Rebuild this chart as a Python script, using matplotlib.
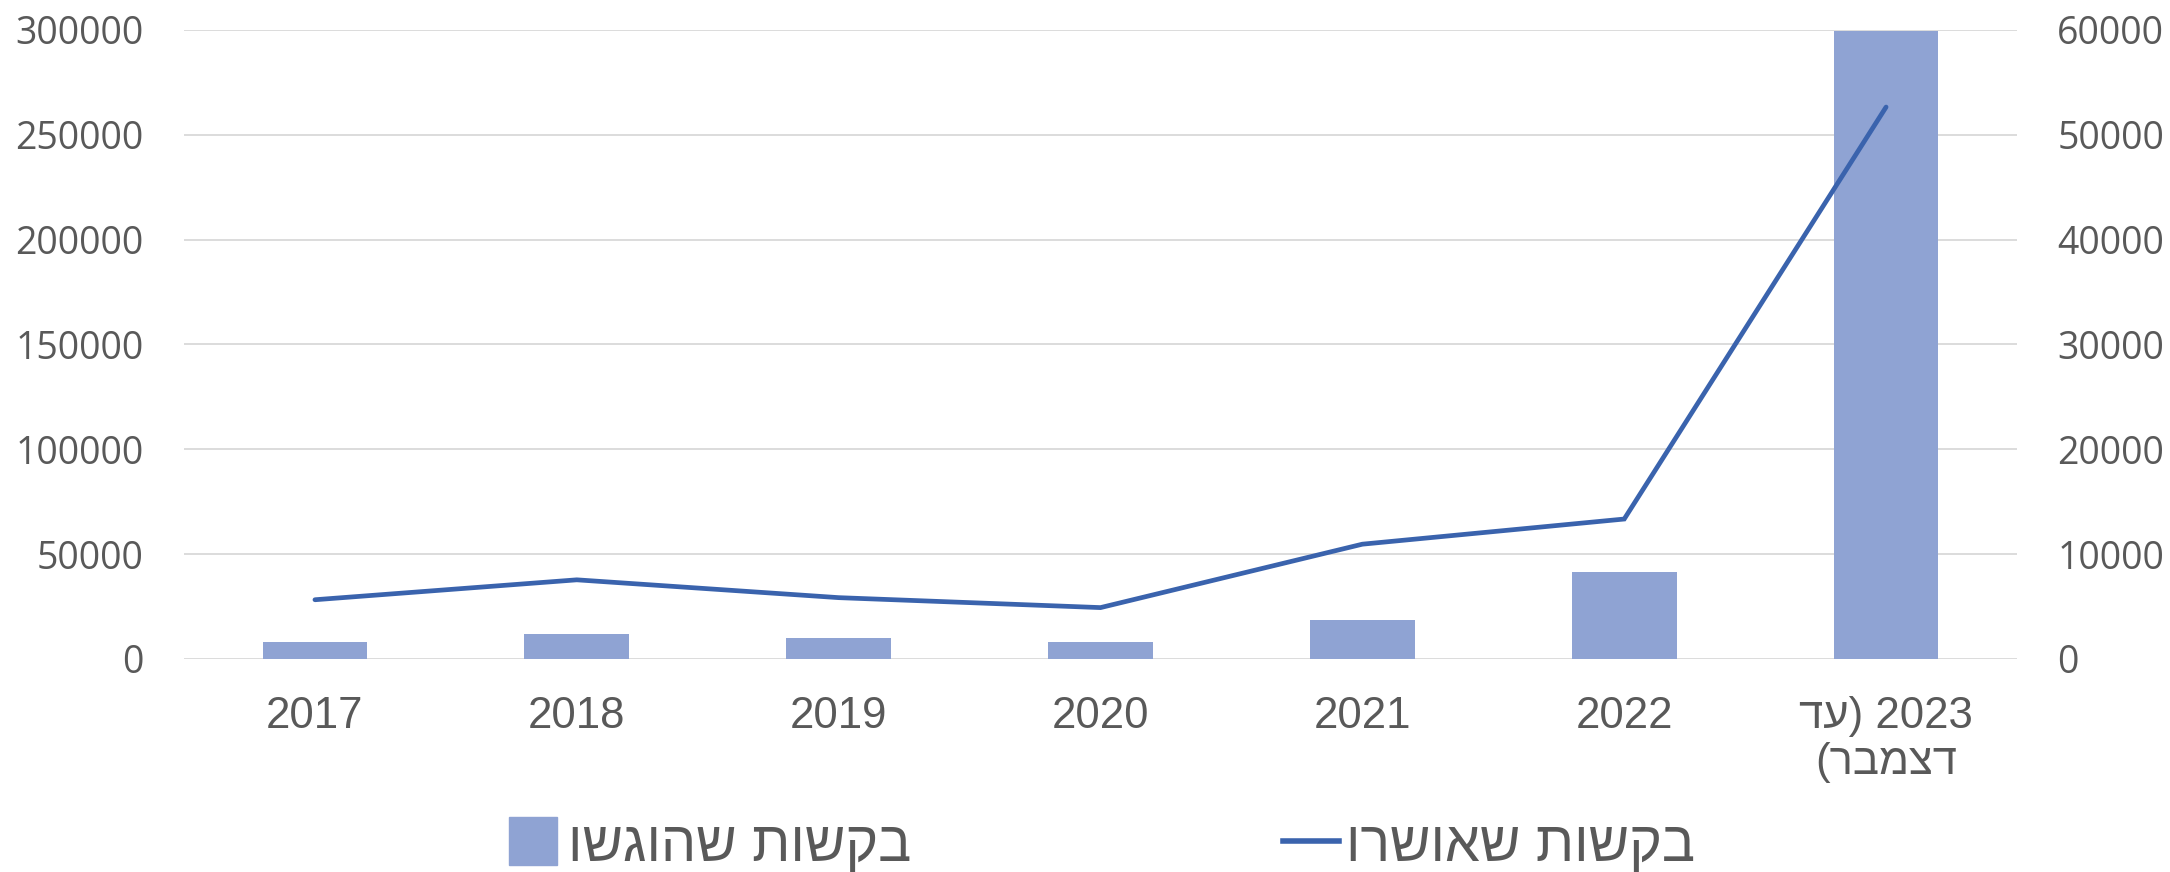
import matplotlib
matplotlib.use("Agg")
import matplotlib.pyplot as plt
from matplotlib.lines import Line2D
import numpy as np

# data
years = ["2017", "2018", "2019", "2020", "2021", "2022", "2023"]
submitted = [8000, 12000, 9800, 8000, 18800, 41700, 299500]   # left axis, bars
approved = [5650, 7550, 5850, 4900, 10950, 13350, 52650]      # right axis, line

# Hebrew is drawn left-to-right by matplotlib, so feed it in visual order
last_label = "עד"[::-1] + ") 2023\n(" + "דצמבר"[::-1]
xlabels = years[:-1] + [last_label]
name_submitted = "בקשות שהוגשו"[::-1]
name_approved = "בקשות שאושרו"[::-1]

BAR = "#8FA3D3"
LINE = "#3A63AD"
TXT = "#595959"
GRID = "#D9D9D9"

fig = plt.figure(figsize=(21.7, 8.72), dpi=100)
ax = fig.add_axes([0.0848, 0.2443, 0.9295 - 0.0848, 0.9656 - 0.2443])
ax2 = ax.twinx()

x = np.arange(len(years))
ax.bar(x, submitted, width=0.4, color=BAR, zorder=2)
ax2.plot(x, approved, color=LINE, lw=3.4, solid_capstyle="round",
         solid_joinstyle="miter", zorder=3)

ax.set_xlim(-0.5, len(years) - 0.5)
ax.set_ylim(0, 300000)
ax2.set_ylim(0, 60000)
ax.set_yticks(np.arange(0, 300001, 50000))
ax2.set_yticks(np.arange(0, 60001, 10000))
ax.grid(axis="y", color=GRID, lw=1.3, zorder=0)
ax.set_axisbelow(True)

ax.set_xticks(x)
ax.set_xticklabels(xlabels, fontsize=31.5, color=TXT, family="Liberation Sans",
                   linespacing=1.15)
ax.tick_params(axis="x", length=0, pad=27)
ax.tick_params(axis="y", length=0, pad=29, labelsize=27, labelcolor=TXT)
ax2.tick_params(axis="y", length=0, pad=29, labelsize=27, labelcolor=TXT)
for lab in ax.get_yticklabels() + ax2.get_yticklabels():
    lab.set_family("Open Sans")

for a in (ax, ax2):
    for s in a.spines.values():
        s.set_visible(False)

handles = [
    Line2D([], [], marker="s", ls="none", markersize=35, color=BAR),
    Line2D([], [], color=LINE, lw=4),
]
fig.legend(handles, [name_submitted, name_approved], loc="center",
           bbox_to_anchor=(0.507, 0.029), ncol=2, frameon=False,
           prop={"family": "Liberation Sans", "size": 40},
           labelcolor=TXT, handlelength=1.0, handletextpad=0.12,
           columnspacing=6.7)

fig.savefig("out.png", dpi=100)
